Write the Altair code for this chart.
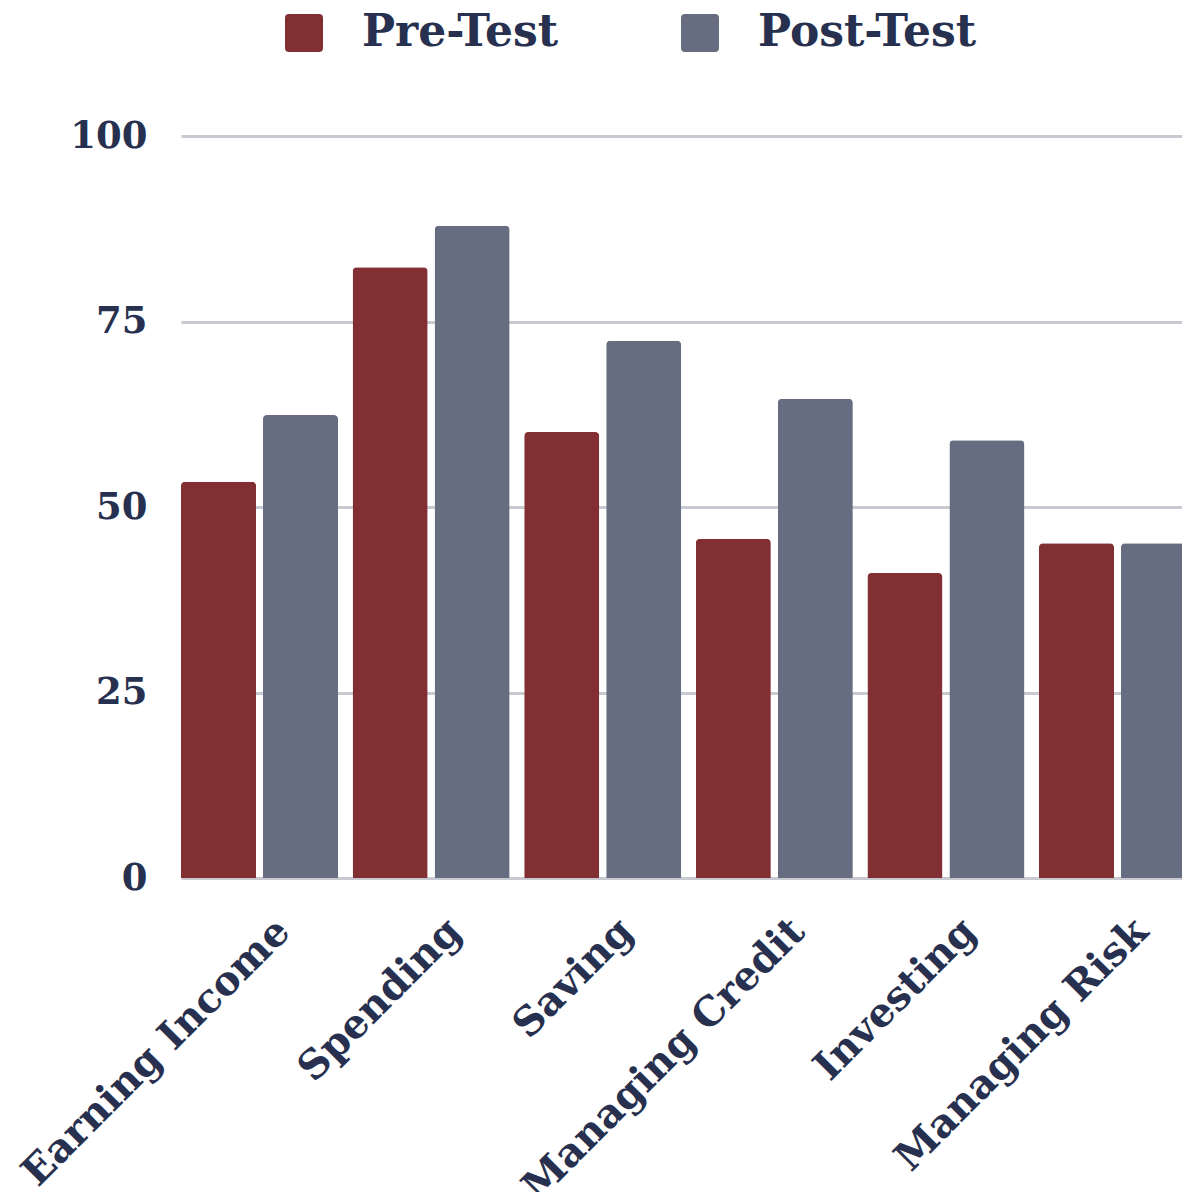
import altair as alt
import pandas as pd

categories = ["Earning Income", "Spending", "Saving", "Managing Credit", "Investing", "Managing Risk"]
pre_test = [53.4, 82.3, 60.1, 45.7, 41.1, 45.1]
post_test = [62.4, 87.9, 72.4, 64.6, 59.0, 45.1]
series = ["Pre-Test", "Post-Test"]
colors = ["#812F33", "#676D80"]
y_ticks = [0, 25, 50, 75, 100]

rows = []
for c, a, b in zip(categories, pre_test, post_test):
    rows.append({"category": c, "series": series[0], "value": a})
    rows.append({"category": c, "series": series[1], "value": b})
df = pd.DataFrame(rows)

FONT = "DejaVu Serif"
TEXT = "#27314F"
GRID = "#C9CAD1"

rounded_square = "M-0.79,-1H0.79Q1,-1 1,-0.79V0.79Q1,1 0.79,1H-0.79Q-1,1 -1,0.79V-0.79Q-1,-1 -0.79,-1Z"

chart = alt.Chart(df).mark_bar(
    cornerRadiusTopLeft=4, cornerRadiusTopRight=4
).encode(
    x=alt.X(
        "category:N",
        sort=categories,
        scale=alt.Scale(range=[0, 1015], paddingInner=0.085, paddingOuter=0),
        axis=alt.Axis(
            title=None, ticks=False, domain=False, grid=False,
            labelAngle=-45, labelAlign="right", labelBaseline="middle",
            labelPadding=47, labelOffset=24,
            labelFont=FONT, labelFontSize=40, labelFontWeight="bold",
            labelColor=TEXT, labelLimit=0, labelOverlap=False,
        ),
    ),
    xOffset=alt.XOffset(
        "series:N", sort=series,
        scale=alt.Scale(paddingInner=0.085, paddingOuter=0),
    ),
    y=alt.Y(
        "value:Q",
        scale=alt.Scale(domain=[0, 100], nice=False),
        axis=alt.Axis(
            title=None, values=y_ticks, ticks=False, domain=False,
            grid=True, gridColor=GRID, gridWidth=3,
            labelPadding=34, labelFont=FONT, labelFontSize=37,
            labelFontWeight="bold", labelColor=TEXT,
        ),
    ),
    color=alt.Color(
        "series:N", sort=series,
        scale=alt.Scale(domain=series, range=colors),
        legend=alt.Legend(
            title=None, orient="none", direction="horizontal", columns=2,
            legendX=101, legendY=-125, padding=0,
            symbolType=rounded_square, symbolSize=1444, symbolStrokeWidth=0,
            labelFont=FONT, labelFontSize=44, labelFontWeight="bold",
            labelColor=TEXT, labelOffset=36, columnPadding=119, labelLimit=0,
        ),
    ),
).properties(
    width=1001, height=742,
    autosize=alt.AutoSizeParams(type="none"),
    padding={"left": 173, "top": 128, "right": 0, "bottom": 314},
).configure_view(stroke=None)

chart.save("out.html", embed_options={"renderer": "svg", "actions": False})
